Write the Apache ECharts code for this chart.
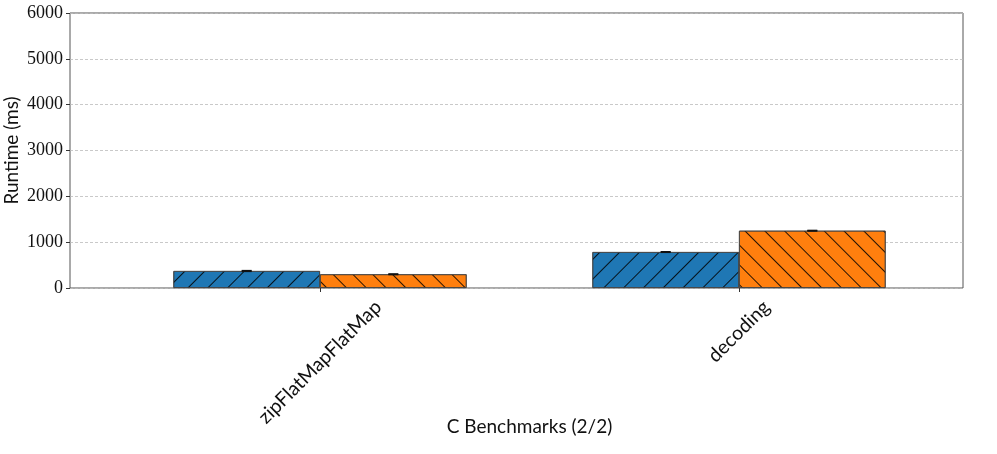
<!DOCTYPE html>
<html>
<head>
<meta charset="utf-8">
<script src="https://cdn.jsdelivr.net/npm/echarts@6/dist/echarts.min.js"></script>
<style>html,body{margin:0;padding:0;background:#fff}#c{width:997px;height:454px}</style>
</head>
<body>
<div id="c"></div>
<script>
const categories = ['zipFlatMapFlatMap', 'decoding'];
const seriesA = [371, 785];
const seriesB = [300, 1250];
const errA = [8, 6];
const errB = [6, 6];
const yTicks = [0, 1000, 2000, 3000, 4000, 5000, 6000];

const FONT = 'Lato';
const chart = echarts.init(document.getElementById('c'), null, {renderer: 'canvas'});

const ctx = document.createElement('canvas').getContext('2d');
function textW(t, size) { ctx.font = size + 'px ' + FONT; return ctx.measureText(t).width; }

function hatch(rot) {
  return {symbol: 'rect', symbolSize: 1, dashArrayX: [1, 0], dashArrayY: [1, 13], rotation: rot, color: 'rgba(0,0,0,0.85)'};
}

function errRender(vals, errs, side) {
  return function (params, api) {
    const i = api.value(0);
    const c = api.coord([i, vals[i]]);
    const band = api.size([1, 0])[0];
    const x = c[0] + side * band * 0.175;
    const top = api.coord([i, vals[i] + errs[i]])[1];
    const bot = api.coord([i, vals[i] - errs[i]])[1];
    const s = {stroke: '#111', lineWidth: 1.5};
    return {type: 'group', children: [
      {type: 'line', shape: {x1: x, y1: top, x2: x, y2: bot}, style: s},
      {type: 'line', shape: {x1: x - 5, y1: top, x2: x + 5, y2: top}, style: s},
      {type: 'line', shape: {x1: x - 5, y1: bot, x2: x + 5, y2: bot}, style: s}
    ]};
  };
}

const LS = 19.5;
const TS = 19;
const option = {
  animation: false,
  grid: [
    {left: 70, right: 34, top: 13, bottom: 166, show: true, borderColor: '#555', borderWidth: 1,
     backgroundColor: 'transparent', containLabel: false, outerBoundsMode: 'none'},
    {left: 110.5, right: 48.5, top: 13, bottom: 166, containLabel: false, outerBoundsMode: 'none'}
  ],
  xAxis: [
    {type: 'value', gridIndex: 0, min: 0, max: 1, show: false},
    {type: 'category', gridIndex: 1, data: categories,
     axisLine: {show: false},
     axisTick: {show: true, alignWithLabel: true, length: 4, lineStyle: {color: '#333'}},
     axisLabel: {show: false},
     name: 'C Benchmarks (2/2)', nameLocation: 'middle', nameGap: 129, nameMoveOverlap: false,
     nameTextStyle: {fontFamily: FONT, fontSize: TS, color: '#111'}}
  ],
  yAxis: [
    {type: 'value', gridIndex: 0, min: 0, max: 6000, interval: 1000,
     axisLine: {show: false},
     axisTick: {show: true, length: 4, lineStyle: {color: '#333'}},
     axisLabel: {fontFamily: 'Liberation Serif', fontSize: 18, color: '#111', margin: 7,
                 formatter: v => yTicks.includes(v) ? String(v) : ''},
     splitLine: {show: true, lineStyle: {color: '#bbb', type: [3, 2], width: 0.8}},
     name: 'Runtime (ms)', nameLocation: 'middle', nameGap: 49, nameRotate: 90, nameMoveOverlap: false,
     nameTextStyle: {fontFamily: FONT, fontSize: TS, color: '#111'}},
    {type: 'value', gridIndex: 1, min: 0, max: 6000, interval: 1000, show: false, splitLine: {show: false}}
  ],
  series: [
    {type: 'bar', xAxisIndex: 1, yAxisIndex: 1, data: seriesA, barWidth: '35%', barGap: '0%',
     itemStyle: {color: '#1f77b4', borderColor: '#444', borderWidth: 0.8, decal: hatch(-Math.PI / 4)}},
    {type: 'bar', xAxisIndex: 1, yAxisIndex: 1, data: seriesB, barWidth: '35%', barGap: '0%',
     itemStyle: {color: '#ff7f0e', borderColor: '#444', borderWidth: 0.8, decal: hatch(Math.PI / 4)}},
    {type: 'custom', xAxisIndex: 1, yAxisIndex: 1, data: categories.map((c, i) => [i]), z: 5,
     renderItem: errRender(seriesA, errA, -1)},
    {type: 'custom', xAxisIndex: 1, yAxisIndex: 1, data: categories.map((c, i) => [i]), z: 5,
     renderItem: errRender(seriesB, errB, 1)},
    {type: 'custom', xAxisIndex: 1, yAxisIndex: 1, clip: false, data: categories.map((c, i) => [i]), z: 5,
     renderItem: function (params, api) {
       const i = api.value(0);
       const p = api.coord([i, 0]);
       const L = textW(categories[i], LS);
       const H = 0.7071 * (L + LS);
       return {type: 'text', x: p[0], y: p[1] + 9 + H / 2, rotation: Math.PI / 4,
               style: {text: categories[i], font: LS + 'px ' + FONT, fill: '#111', align: 'center', verticalAlign: 'middle'}};
     }}
  ]
};
chart.setOption(option);
</script>
</body>
</html>
